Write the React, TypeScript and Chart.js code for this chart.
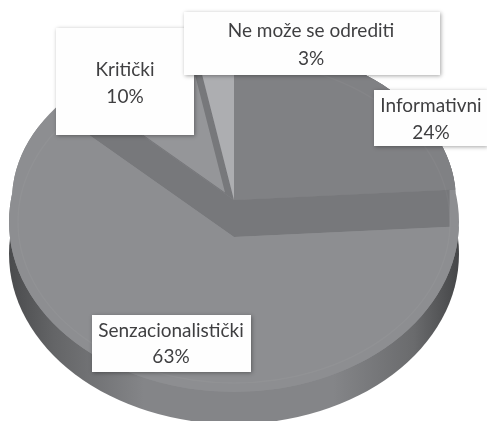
import React, { useEffect, useRef } from "react";
import { Chart, registerables } from "chart.js";

Chart.register(...registerables);

const categories = ["Informativni", "Senzacionalistički", "Kritički", "Ne može se odrediti"];
const shares = [24, 63, 10, 3];
const sliceColors = ["#808184", "#8d8e91", "#959699", "#adaeb1"];

const CX = 234;
const CY = 200;
const RX = 222;
const SQUASH = 0.75;
const SENZ_DROP = 37;
const UPPER_B = 155;
const LOWER_CY = 222;
const LOWER_RX = 225;
const LOWER_B = 170;
const WALL = 32;
const BAND_INSET = 6;

const labelBoxes = [
  { x: 374, y: 90, w: 113, h: 56 },
  { x: 92, y: 315, w: 159, h: 57 },
  { x: 56, y: 28, w: 138, h: 107 },
  { x: 184, y: 12, w: 256, h: 63 },
];
const labelLines = [
  { cx: 431, y1: 106, y2: 133 },
  { cx: 171, y1: 331, y2: 357 },
  { cx: 125, y1: 70, y2: 97 },
  { cx: 311, y1: 31, y2: 59 },
];

const pseudo3d = {
  id: "pseudo3d",
  afterDatasetsUpdate(chart: any) {
    const arcs = chart.getDatasetMeta(0).data;
    arcs[1].y = arcs[1].y + SENZ_DROP / SQUASH;
    arcs[1].outerRadius = 245;
    arcs[2].x = arcs[2].x - 9;
    arcs[2].y = arcs[2].y - 10;
  },
  beforeDatasetsDraw(chart: any) {
    const { ctx } = chart;
    const arcs = chart.getDatasetMeta(0).data;
    ctx.save();
    // outer side wall of the big slice
    const g = ctx.createLinearGradient(CX - LOWER_RX, 0, CX + LOWER_RX, 0);
    g.addColorStop(0, "#4a4b4d");
    g.addColorStop(0.1, "#646567");
    g.addColorStop(0.3, "#848588");
    g.addColorStop(0.72, "#848588");
    g.addColorStop(0.9, "#6a6b6d");
    g.addColorStop(1, "#454648");
    ctx.fillStyle = g;
    ctx.beginPath();
    ctx.ellipse(CX, LOWER_CY + WALL, LOWER_RX, LOWER_B, 0, 0, Math.PI * 2);
    ctx.fill();

    // everything on the top faces stays inside the two rims
    ctx.beginPath();
    ctx.ellipse(CX, LOWER_CY, LOWER_RX, LOWER_B, 0, 0, Math.PI * 2);
    ctx.ellipse(CX, CY, RX, UPPER_B, 0, 0, Math.PI * 2);
    ctx.clip();
    ctx.fillStyle = sliceColors[1];
    ctx.fillRect(0, 0, chart.width, chart.height);

    // inner wall under the raised slices
    ctx.fillStyle = "#77787b";
    [0, 2, 3].forEach((i) => {
      const a = arcs[i];
      ctx.beginPath();
      ctx.moveTo(CX, CY);
      ctx.ellipse(CX, CY, RX, RX * SQUASH, 0, a.startAngle, a.endAngle);
      ctx.closePath();
      ctx.fill();
    });
    const edge = (angle: number, dy: number): [number, number] => [
      CX + (RX - BAND_INSET) * Math.cos(angle),
      CY + dy + (RX - BAND_INSET) * SQUASH * Math.sin(angle),
    ];
    ctx.beginPath();
    ctx.moveTo(CX, CY);
    ctx.lineTo(...edge(arcs[0].endAngle, 0));
    ctx.lineTo(...edge(arcs[0].endAngle, SENZ_DROP));
    ctx.lineTo(CX, CY + SENZ_DROP);
    ctx.lineTo(...edge(arcs[2].startAngle, SENZ_DROP));
    ctx.lineTo(...edge(arcs[2].startAngle, 0));
    ctx.closePath();
    ctx.fill();

    ctx.save();
    ctx.translate(CX, CY);
    ctx.scale(1, SQUASH);
    ctx.translate(-CX, -CY);
  },
  afterDatasetsDraw(chart: any) {
    const { ctx } = chart;
    ctx.restore();
    // faint bevel along the rim of the top face
    ctx.strokeStyle = "rgba(255,255,255,0.035)";
    ctx.lineWidth = 1.5;
    ctx.beginPath();
    ctx.ellipse(CX, LOWER_CY, LOWER_RX - 9, LOWER_B - 9, 0, 0, Math.PI * 2);
    ctx.stroke();
    ctx.restore();
  },
  afterDraw(chart: any) {
    const { ctx } = chart;
    categories.forEach((name, i) => {
      const b = labelBoxes[i];
      const t = labelLines[i];
      ctx.save();
      ctx.shadowColor = "rgba(0,0,0,0.35)";
      ctx.shadowBlur = 4;
      ctx.shadowOffsetX = 1;
      ctx.shadowOffsetY = 1;
      ctx.fillStyle = "#fefefe";
      ctx.fillRect(b.x, b.y, b.w, b.h);
      ctx.restore();
      ctx.fillStyle = "#3f3f41";
      ctx.font = "19px Lato";
      ctx.textAlign = "center";
      ctx.textBaseline = "middle";
      ctx.fillText(name, t.cx, t.y1);
      ctx.fillText(shares[i] + "%", t.cx, t.y2);
    });
  },
};

export default function App() {
  const ref = useRef<HTMLCanvasElement>(null);
  useEffect(() => {
    const chart = new Chart(ref.current!, {
      type: "pie",
      data: {
        labels: categories,
        datasets: [
          {
            data: shares,
            backgroundColor: sliceColors,
            borderWidth: 0,
            clip: false,
          } as any,
        ],
      },
      options: {
        animation: false,
        responsive: false,
        radius: RX,
        layout: { padding: { right: 19, bottom: 21 } },
        plugins: { legend: { display: false }, tooltip: { enabled: false } },
      },
      plugins: [pseudo3d],
    });
    return () => chart.destroy();
  }, []);
  return (
    <canvas
      ref={ref}
      width={487}
      height={421}
      style={{ position: "fixed", left: 0, top: 0, width: 487, height: 421, background: "#fff", filter: "blur(0.5px)" }}
    />
  );
}
